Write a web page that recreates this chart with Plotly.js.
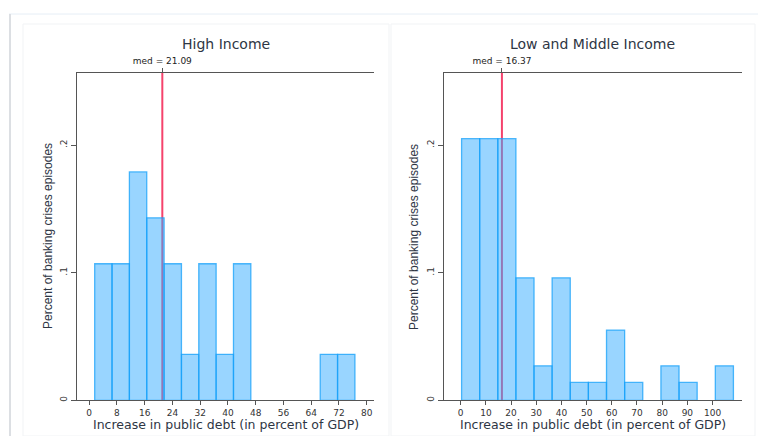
<!DOCTYPE html>
<html>
<head>
<meta charset="utf-8">
<script src="https://cdn.plot.ly/plotly-3.0.1.min.js"></script>
<style>html,body{margin:0;padding:0;background:#fff;}#chart{width:758px;height:436px;}</style>
</head>
<body>
<div id="chart"></div>
<script>
// High income panel (bin centers, fraction of episodes)
var hiBinCenters = [4.1, 9.1, 14.1, 19.1, 24.1, 29.1, 34.1, 39.1, 44.1, 69.1, 74.1];
var hiFractions  = [0.107, 0.107, 0.179, 0.143, 0.107, 0.036, 0.107, 0.036, 0.107, 0.036, 0.036];
var hiBinWidth = 5;
var hiMedian = 21.09;
var hiTicks = [0, 8, 16, 24, 32, 40, 48, 56, 64, 72, 80];

// Low and middle income panel
var lmBinCenters = [3.95, 11.14, 18.33, 25.52, 32.7, 39.9, 47.1, 54.3, 61.5, 68.7, 83.1, 90.3, 104.7];
var lmFractions  = [0.205, 0.205, 0.205, 0.096, 0.027, 0.096, 0.014, 0.014, 0.055, 0.014, 0.027, 0.014, 0.027];
var lmBinWidth = 7.19;
var lmMedian = 16.37;
var lmTicks = [0, 10, 20, 30, 40, 50, 60, 70, 80, 90, 100];

var yTickVals = [0, 0.1, 0.2];
var yTickText = ['0', '.1', '.2'];

var titles = ['High Income', 'Low and Middle Income'];
var xTitle = 'Increase in public debt (in percent of GDP)';
var yTitle = 'Percent of banking crises episodes';

var barFill = 'rgba(51,172,255,0.5)';
var barLine = 'rgba(20,160,250,0.75)';
var medColor = '#f5426c';
var axColor = '#555555';
var txtColor = '#2e3644';
var tickFont = {family: 'DejaVu Sans', size: 9, color: '#333333'};

function W(px){return px/758;}
function H(py){return 1 - py/436;}

var traces = [
  {type: 'bar', x: hiBinCenters, y: hiFractions, width: hiBinWidth, xaxis: 'x', yaxis: 'y',
   marker: {color: barFill, line: {color: barLine, width: 1.3}}, hoverinfo: 'x+y', showlegend: false},
  {type: 'bar', x: lmBinCenters, y: lmFractions, width: lmBinWidth, xaxis: 'x2', yaxis: 'y2',
   marker: {color: barFill, line: {color: barLine, width: 1.3}}, hoverinfo: 'x+y', showlegend: false},
  // invisible carriers for the top "median" axes
  {type: 'scatter', mode: 'markers', x: [hiMedian], y: [0], xaxis: 'x3', yaxis: 'y',
   marker: {opacity: 0}, hoverinfo: 'skip', showlegend: false},
  {type: 'scatter', mode: 'markers', x: [lmMedian], y: [0], xaxis: 'x4', yaxis: 'y2',
   marker: {opacity: 0}, hoverinfo: 'skip', showlegend: false}
];

var yRange = [0, 0.2565];
var hiRange = [-3.5, 82.1];
var lmRange = [-6.75, 111.7];

function xa(domain, range, ticks){
  return {domain: domain, range: range, tickmode: 'array', tickvals: ticks, ticktext: ticks.map(String),
    showline: true, linecolor: axColor, linewidth: 1, ticks: 'outside', ticklen: 4, tickcolor: axColor,
    showgrid: false, zeroline: false, tickfont: tickFont, fixedrange: true};
}
function ya(domain, anchor){
  return {domain: domain, range: yRange, anchor: anchor, tickmode: 'array', tickvals: yTickVals, ticktext: yTickText,
    tickangle: -90, showline: true, linecolor: axColor, linewidth: 1, ticks: 'outside', ticklen: 5, tickcolor: axColor,
    showgrid: false, zeroline: false, tickfont: tickFont, fixedrange: true};
}
function topAxis(over, range, med, anchor){
  return {overlaying: over, side: 'top', anchor: anchor, range: range, tickmode: 'array', tickvals: [med],
    ticktext: ['med = ' + med.toFixed(2)], showline: true, linecolor: axColor, linewidth: 1,
    ticks: 'outside', ticklen: 4, tickcolor: axColor, showgrid: false, zeroline: false,
    tickfont: {family: 'DejaVu Sans', size: 9, color: '#222222'}, fixedrange: true};
}

var yDom = [H(400.3), H(73)];
var layout = {
  width: 758, height: 436,
  margin: {l: 0, r: 0, t: 0, b: 0, pad: 0},
  paper_bgcolor: '#ffffff', plot_bgcolor: '#ffffff',
  bargap: 0,
  xaxis: xa([W(77), W(374)], hiRange, hiTicks),
  yaxis: ya(yDom, 'x'),
  xaxis2: Object.assign(xa([W(443.7), W(742)], lmRange, lmTicks), {anchor: 'y2'}),
  yaxis2: ya(yDom, 'x2'),
  xaxis3: topAxis('x', hiRange, hiMedian, 'y'),
  xaxis4: topAxis('x2', lmRange, lmMedian, 'y2'),
  shapes: [
    // outer frame lines
    {type: 'line', xref: 'paper', yref: 'paper', x0: W(9), x1: 1, y0: H(14), y1: H(14), line: {color: '#e6eef6', width: 1}},
    {type: 'line', xref: 'paper', yref: 'paper', x0: W(10), x1: W(10), y0: H(14), y1: 0, line: {color: '#dcdfe3', width: 2}},
    // faint panel boxes
    {type: 'rect', xref: 'paper', yref: 'paper', x0: W(23), x1: W(389), y0: 0, y1: H(24), line: {color: '#f1f3f5', width: 1}},
    {type: 'rect', xref: 'paper', yref: 'paper', x0: W(391), x1: W(755), y0: 0, y1: H(24), line: {color: '#f1f3f5', width: 1}},
    // median lines
    {type: 'line', xref: 'x', yref: 'y domain', x0: hiMedian, x1: hiMedian, y0: 0, y1: 1, layer: 'below', line: {color: medColor, width: 2}},
    {type: 'line', xref: 'x2', yref: 'y2 domain', x0: lmMedian, x1: lmMedian, y0: 0, y1: 1, layer: 'below', line: {color: medColor, width: 2}}
  ],
  annotations: [
    {xref: 'paper', yref: 'paper', x: W(225.5), y: H(44), text: titles[0], showarrow: false, xanchor: 'center', yanchor: 'middle',
     font: {family: 'DejaVu Sans', size: 14, color: txtColor}},
    {xref: 'paper', yref: 'paper', x: W(592.7), y: H(44), text: titles[1], showarrow: false, xanchor: 'center', yanchor: 'middle',
     font: {family: 'DejaVu Sans', size: 14, color: txtColor}},
    {xref: 'paper', yref: 'paper', x: W(226.3), y: H(424), text: xTitle, showarrow: false, xanchor: 'center', yanchor: 'middle',
     font: {family: 'DejaVu Sans', size: 12.5, color: txtColor}},
    {xref: 'paper', yref: 'paper', x: W(592.5), y: H(424), text: xTitle, showarrow: false, xanchor: 'center', yanchor: 'middle',
     font: {family: 'DejaVu Sans', size: 12.5, color: txtColor}},
    {xref: 'paper', yref: 'paper', x: W(47.5), y: H(236.5), text: yTitle, textangle: -90, showarrow: false, xanchor: 'center', yanchor: 'middle',
     font: {family: 'Liberation Sans', size: 12, color: txtColor}},
    {xref: 'paper', yref: 'paper', x: W(413.5), y: H(236.5), text: yTitle, textangle: -90, showarrow: false, xanchor: 'center', yanchor: 'middle',
     font: {family: 'Liberation Sans', size: 12, color: txtColor}}
  ]
};

Plotly.newPlot('chart', traces, layout, {displayModeBar: false, staticPlot: true});
</script>
</body>
</html>
